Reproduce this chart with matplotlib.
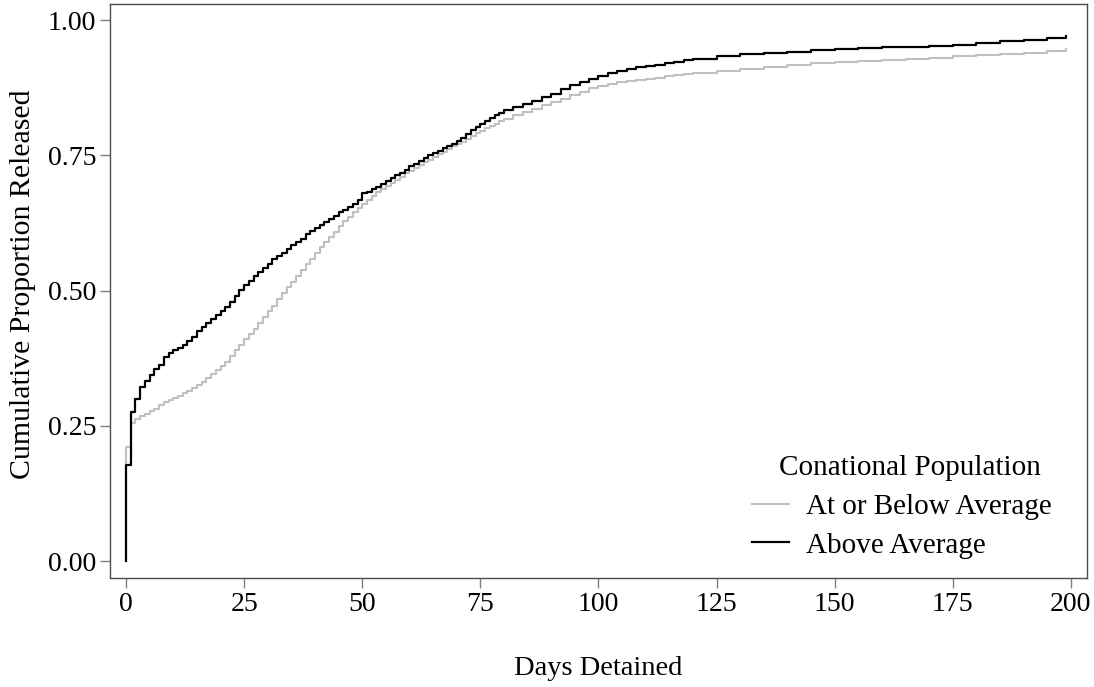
import matplotlib
matplotlib.use("Agg")
import matplotlib.pyplot as plt

plt.rcParams['font.family'] = ['Liberation Serif', 'DejaVu Serif']

days = ([0] + list(range(0, 81)) + list(range(82, 121, 2))
        + list(range(125, 200, 5)) + [199])

above_avg = [0.0,
    0.177, 0.275, 0.300, 0.322, 0.334, 0.344, 0.355, 0.362, 0.378, 0.385,
    0.390, 0.395, 0.400, 0.407, 0.415, 0.425, 0.433, 0.440, 0.448, 0.456,
    0.462, 0.470, 0.480, 0.490, 0.502, 0.510, 0.518, 0.527, 0.535, 0.542,
    0.550, 0.558, 0.564, 0.570, 0.577, 0.584, 0.590, 0.596, 0.604, 0.610,
    0.616, 0.621, 0.627, 0.632, 0.638, 0.645, 0.650, 0.655, 0.660, 0.667,
    0.680, 0.683, 0.688, 0.692, 0.697, 0.702, 0.708, 0.713, 0.718, 0.724,
    0.730, 0.735, 0.740, 0.745, 0.750, 0.754, 0.758, 0.763, 0.767, 0.772,
    0.776, 0.783, 0.790, 0.797, 0.803, 0.808, 0.814, 0.819, 0.824, 0.829,
    0.834,
    0.840, 0.845, 0.851, 0.858, 0.863, 0.872, 0.880, 0.886, 0.891, 0.897,
    0.902, 0.906, 0.910, 0.913, 0.916, 0.918, 0.920, 0.923, 0.926, 0.928,
    0.934, 0.937, 0.940, 0.942, 0.945, 0.947, 0.948, 0.950, 0.951, 0.952,
    0.954, 0.957, 0.961, 0.964, 0.968, 0.971]

below_avg = [0.0,
    0.211, 0.256, 0.262, 0.268, 0.273, 0.277, 0.282, 0.288, 0.294, 0.298,
    0.302, 0.306, 0.310, 0.315, 0.320, 0.325, 0.332, 0.339, 0.346, 0.354,
    0.361, 0.368, 0.380, 0.390, 0.400, 0.410, 0.420, 0.430, 0.440, 0.451,
    0.462, 0.472, 0.484, 0.495, 0.506, 0.517, 0.528, 0.538, 0.549, 0.559,
    0.570, 0.580, 0.590, 0.599, 0.609, 0.619, 0.628, 0.637, 0.645, 0.653,
    0.661, 0.668, 0.675, 0.682, 0.688, 0.694, 0.700, 0.705, 0.711, 0.717,
    0.722, 0.727, 0.732, 0.737, 0.742, 0.747, 0.752, 0.757, 0.762, 0.767,
    0.771, 0.775, 0.780, 0.786, 0.791, 0.796, 0.800, 0.805, 0.809, 0.814,
    0.818,
    0.824, 0.830, 0.836, 0.843, 0.849, 0.855, 0.862, 0.868, 0.874, 0.879,
    0.883, 0.886, 0.888, 0.890, 0.892, 0.894, 0.896, 0.898, 0.900, 0.902,
    0.907, 0.910, 0.913, 0.917, 0.920, 0.922, 0.924, 0.927, 0.929, 0.930,
    0.933, 0.936, 0.938, 0.940, 0.943, 0.946]

labels = ["At or Below Average", "Above Average"]
xticks = [0, 25, 50, 75, 100, 125, 150, 175, 200]
yticks = [0.00, 0.25, 0.50, 0.75, 1.00]

fig = plt.figure(figsize=(10.94, 6.87), dpi=100)
ax = fig.add_axes([0.1005, 0.1587, 0.8931, 0.8355])

ax.step(days, below_avg, where='post', color='#c0c0c0', lw=1.5, label=labels[0])
ax.step(days, above_avg, where='post', color='black', lw=1.6, label=labels[1])

ax.set_xlim(-3.4, 203.4)
ax.set_ylim(-0.031, 1.03)
ax.set_xticks(xticks)
ax.set_yticks(yticks)
ax.set_yticklabels(["%.2f" % v for v in yticks])
ax.tick_params(direction='out', length=7, width=1, color='#7f7f7f',
               labelsize=20, labelcolor='black', pad=3)
for s in ax.spines.values():
    s.set_color('#4d4d4d')
    s.set_linewidth(1)

ax.set_xlabel("Days Detained", fontsize=20.5, labelpad=28)
ax.set_ylabel("Cumulative Proportion Released", fontsize=21.5, labelpad=8)
ax.yaxis.label.set_y(0.512)

leg = ax.legend(title="Conational Population", loc='lower right',
                bbox_to_anchor=(0.991, -0.012), frameon=False, fontsize=21,
                title_fontsize=21, handlelength=1.27, handletextpad=0.58,
                labelspacing=0.42)
leg.get_title().set_position((8, 0))

fig.savefig("out.png", dpi=100)
